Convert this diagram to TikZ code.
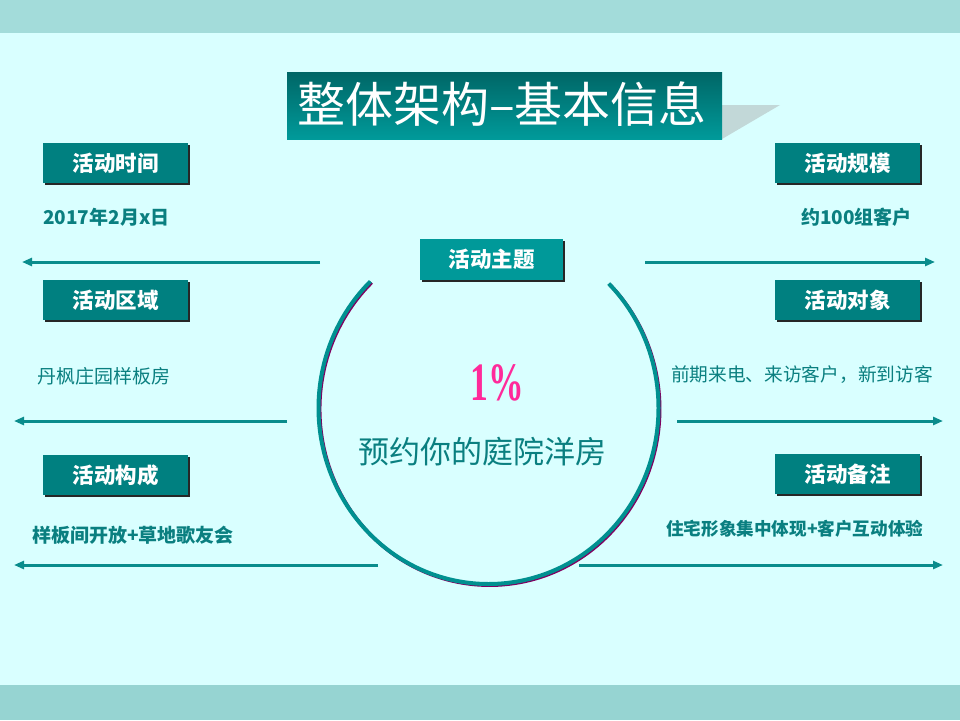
\documentclass[tikz,border=0pt]{standalone}
\usepackage{fontspec}
\newfontfamily\cjk{Noto Sans CJK SC}
\newfontfamily\serifnum{Liberation Serif}
\usetikzlibrary{arrows.meta,shadings}
\definecolor{bgc}{HTML}{D9FFFF}
\definecolor{bandtop}{HTML}{A3DCDA}
\definecolor{bandbot}{HTML}{96D4D2}
\definecolor{boxc}{HTML}{008080}
\definecolor{boxmid}{HTML}{009999}
\definecolor{txtc}{HTML}{0A7F80}
\definecolor{arrc}{HTML}{0A8C8C}
\definecolor{magc}{HTML}{FF2A9A}
\definecolor{shadowc}{HTML}{C2D8D8}
\definecolor{titletop}{HTML}{006666}
\definecolor{titlebot}{HTML}{009A9A}
\definecolor{arcshadow}{HTML}{800060}
\definecolor{arcc}{HTML}{009090}
\tikzset{
  labelbox/.style={fill=boxc, text=white, minimum width=145pt, minimum height=40pt, inner sep=0pt,
    font=\cjk\bfseries\fontsize{21.5}{25}\selectfont},
  boxshadow/.style={fill=black!85},
  infotext/.style={text=txtc, inner sep=0pt, font=\cjk\bfseries\fontsize{19}{22}\selectfont},
  plaintext/.style={text=txtc, inner sep=0pt, font=\cjk\fontsize{19}{22}\selectfont},
  longarrow/.style={draw=arrc, line width=3pt, -{Triangle[length=10pt,width=8pt]}},
}
\begin{document}
\begin{tikzpicture}[x=1pt,y=-1pt]
\useasboundingbox (0,0) rectangle (960,720);
% background
\fill[bgc] (0,0) rectangle (960,720);
\fill[bandtop] (0,0) rectangle (960,33);
\fill[bandbot] (0,685) rectangle (960,720);
% title
\fill[shadowc] (722,105) -- (780,105) -- (722,139) -- cycle;
\shade[top color=titletop, bottom color=titlebot] (287,72) rectangle (722,139);
\node[text=white, inner sep=0pt, font=\cjk\fontsize{48}{54}\selectfont] (title) at (502,104) {整体架构–基本信息};
% left boxes
\foreach \n/\y/\t in {lt/163/活动时间, lm/300/活动区域, lb/475/活动构成}{
  \fill[boxshadow] (45,\y-18) rectangle (190,\y+22);
  \node[labelbox] (\n) at (115.5,\y) {\t};
}
% right boxes
\foreach \n/\y/\t in {rt/163/活动规模, rm/300/活动对象, rb/474/活动备注}{
  \fill[boxshadow] (777,\y-18) rectangle (922,\y+22);
  \node[labelbox] (\n) at (847.5,\y) {\t};
}
% center box
\fill[boxshadow] (422,241) rectangle (565,282);
\node[labelbox, fill=boxmid, minimum width=143pt, minimum height=41pt] (theme) at (491.5,259.5) {活动主题};
% texts
\node[infotext, anchor=west] (t1) at (43,217) {2017年2月x日};
\node[infotext, anchor=east] (t2) at (912,217) {约100组客户};
\node[plaintext, anchor=west] (t3) at (37,376) {丹枫庄园样板房};
\node[plaintext, anchor=east, font=\cjk\fontsize{18.7}{22}\selectfont] (t4) at (933,375) {前期来电、来访客户，新到访客};
\node[infotext, anchor=west] (t5) at (32,535) {样板间开放+草地歌友会};
\node[infotext, anchor=west, font=\cjk\bfseries\fontsize{17.6}{21}\selectfont] (t6) at (666,529) {住宅形象集中体现+客户互动体验};
% arrows
\coordinate (a1s) at (320,262); \coordinate (a1e) at (22,262);
\coordinate (a2s) at (287,421); \coordinate (a2e) at (14,421);
\coordinate (a3s) at (378,565); \coordinate (a3e) at (14,565);
\coordinate (b1s) at (645,262); \coordinate (b1e) at (935,262);
\coordinate (b2s) at (677,421); \coordinate (b2e) at (943,421);
\coordinate (b3s) at (579,565); \coordinate (b3e) at (943,565);
\foreach \s/\e in {a1s/a1e, a2s/a2e, a3s/a3e, b1s/b1e, b2s/b2e, b3s/b3e}{
  \draw[longarrow] (\s) -- (\e);
}
% circle arc
\coordinate (cc) at (488.5,408);
\draw[arcshadow, line width=3.5pt] ([shift={(1.2,1.2)}]cc) ++(-45:170 and 176) arc[start angle=-45, end angle=226, x radius=170, y radius=176];
\draw[arcc, line width=4pt] (cc) ++(-45:170 and 176) arc[start angle=-45, end angle=226, x radius=170, y radius=176];
% center texts
\node[text=magc, inner sep=0pt, font=\serifnum\bfseries\fontsize{54}{60}\selectfont] (pct) at (497,383) {\scalebox{0.66}[1]{1\%}};
\node[text=txtc, inner sep=0pt, font=\cjk\fontsize{31}{36}\selectfont] (slogan) at (482,452) {预约你的庭院洋房};
\end{tikzpicture}
\end{document}
